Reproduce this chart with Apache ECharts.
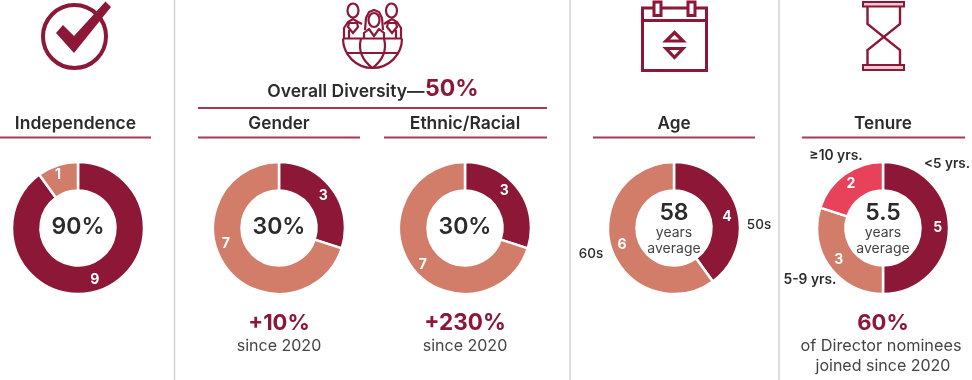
<!DOCTYPE html>
<html><head><meta charset="utf-8">
<style>html,body{margin:0;padding:0;background:#fff}#c{width:972px;height:380px}</style>
<script src="https://cdn.jsdelivr.net/npm/echarts@6/dist/echarts.min.js"></script>
</head><body><div id="c"></div>
<script>
const independenceValues = [9, 1];
const genderValues = [3, 7];
const ethnicValues = [3, 7];
const ageValues = [4, 6];
const tenureValues = [5, 3, 2];
const tenureCategories = ['<5 yrs.', '5-9 yrs.', '≥10 yrs.'];
const ageCategories = ['50s', '60s'];

const DARK = '#8c1736', SALMON = '#d27d6a', RED = '#e8415a', RULE = '#a63a56', INK = '#2b2b2b', SOFT = '#444444', DIV = '#d2d2d2';
const FONT = 'Inter, "Open Sans", sans-serif';

function donut(cx, values, colors, offsets) {
  return {
    type: 'pie', center: [cx, 228], radius: [37.5, 66], startAngle: 90, clockwise: true,
    silent: true, animation: false, avoidLabelOverlap: false, labelLine: { show: false },
    emphasis: { disabled: true },
    itemStyle: { borderColor: '#fff', borderWidth: 2.5 },
    data: values.map((v, i) => ({
      value: v,
      itemStyle: { color: colors[i] },
      label: {
        show: true, position: 'inside', formatter: String(v), color: '#fff',
        fontFamily: FONT, fontWeight: 700, fontSize: 14,
        offset: (offsets && offsets[i]) || [0, 0]
      }
    }))
  };
}
function txt(x, y, s, size, weight, fill, align) {
  return { type: 'text', silent: true, x, y, style: {
    text: s, fontFamily: FONT, fontSize: size, fontWeight: weight, fill,
    align: align || 'center', verticalAlign: 'middle' } };
}
function rule(x1, x2, y) {
  return { type: 'line', silent: true, shape: { x1, y1: y, x2, y2: y }, style: { stroke: RULE, lineWidth: 2 } };
}
function divider(x) {
  return { type: 'line', silent: true, shape: { x1: x, y1: 0, x2: x, y2: 380 }, style: { stroke: DIV, lineWidth: 1.5 } };
}
const ln = { stroke: DARK, fill: 'none', lineWidth: 2.6 };
const ln2 = { stroke: DARK, fill: 'none', lineWidth: 2.2 };
function pl(points, style) { return { type: 'polyline', silent: true, shape: { points }, style: style || ln }; }
function pg(points, style) { return { type: 'polygon', silent: true, shape: { points }, style: style || ln }; }
function rc(x, y, width, height, style) { return { type: 'rect', silent: true, shape: { x, y, width, height }, style: style || ln }; }
function bz(x1, y1, cpx1, cpy1, cpx2, cpy2, x2, y2, style) {
  return { type: 'bezierCurve', silent: true, shape: { x1, y1, x2, y2, cpx1, cpy1, cpx2, cpy2 }, style: style || ln2 };
}
function ell(cx, cy, rx, ry) { return { type: 'ellipse', silent: true, shape: { cx, cy, rx, ry }, style: ln2 }; }

const icons = [
  // check mark
  { type: 'circle', silent: true, shape: { cx: 74.5, cy: 36.5, r: 31.5 }, style: { stroke: DARK, fill: 'none', lineWidth: 4 } },
  pg([[56, 33], [63, 25], [74, 36], [105.5, 1.5], [111, 7], [74, 53]], { fill: DARK, stroke: 'none' }),
  // calendar
  rc(642.5, 8, 64, 62.5, { stroke: DARK, fill: 'none', lineWidth: 3 }),
  pl([[642.5, 20.5], [706.5, 20.5]], { stroke: DARK, fill: 'none', lineWidth: 3 }),
  rc(654, 2, 7, 13.5, { stroke: DARK, fill: '#fff', lineWidth: 3 }),
  rc(688, 2, 7, 13.5, { stroke: DARK, fill: '#fff', lineWidth: 3 }),
  pg([[674.5, 32.5], [683, 41], [666, 41]], { stroke: DARK, fill: 'none', lineWidth: 3.2 }),
  pg([[666, 48.5], [683, 48.5], [674.5, 57.5]], { stroke: DARK, fill: 'none', lineWidth: 3.2 }),
  // hourglass
  rc(863, 2, 41, 4.5, { stroke: DARK, fill: '#f4c9d2', lineWidth: 2 }),
  rc(863, 65, 41, 5, { stroke: DARK, fill: '#f4c9d2', lineWidth: 2 }),
  pl([[867.5, 7], [867.5, 24], [900, 50], [900, 65]], { stroke: DARK, fill: 'none', lineWidth: 2.4 }),
  pl([[900, 7], [900, 24], [867.5, 50], [867.5, 65]], { stroke: DARK, fill: 'none', lineWidth: 2.4 }),
  // globe
  { type: 'arc', silent: true, shape: { cx: 372.5, cy: 38.5, r: 29.5, startAngle: 0, endAngle: Math.PI, clockwise: true }, style: ln2 },
  pl([[343, 38.5], [402, 38.5]], ln2),
  pl([[347, 53], [398, 53]], ln2),
  bz(361, 38.5, 358, 50, 362, 60, 372.5, 68, ln2),
  bz(384, 38.5, 387, 50, 383, 60, 372.5, 68, ln2),
  // people
  ell(353, 10.5, 5.5, 7), ell(391.5, 10.5, 5.5, 7), ell(374, 20, 5.5, 7),
  pl([[344, 38], [344, 28], [348, 22], [353, 19], [358, 22], [362, 24]], ln2),
  pl([[349, 38], [349, 30]], ln2),
  pg([[349, 23], [357, 23], [358, 27], [353, 33], [348, 27]], ln2),
  pl([[401, 38], [401, 28], [397, 22], [392, 19], [387, 22], [384, 24]], ln2),
  pl([[396, 38], [396, 30]], ln2),
  pg([[388, 23], [396, 23], [397, 27], [392, 33], [387, 27]], ln2),
  pl([[365, 30], [366, 18], [369, 12], [374, 10], [379, 12], [382, 18], [383, 30]], ln2),
  pl([[364, 38], [364, 33], [369, 29], [374, 36], [379, 29], [384, 33], [384, 38]], ln2),
];

const texts = [
  txt(75.5, 124, 'Independence', 17.5, 600, INK),
  txt(424.5, 92, 'Overall Diversity—', 17.5, 600, INK, 'right'),
  txt(425, 89, '50%', 23, 700, DARK, 'left'),
  txt(279, 124, 'Gender', 17.2, 600, INK),
  txt(465, 124, 'Ethnic/Racial', 17.5, 600, INK),
  txt(674, 124, 'Age', 17.2, 600, INK),
  txt(883, 124, 'Tenure', 17.2, 600, INK),
  txt(78, 227, '90%', 23, 600, INK),
  txt(279, 227, '30%', 23, 600, INK),
  txt(465, 227, '30%', 23, 600, INK),
  txt(674, 213, '58', 23, 600, INK),
  txt(674, 233, 'years', 14, 400, SOFT),
  txt(674, 249, 'average', 14, 400, SOFT),
  txt(883, 213, '5.5', 23, 600, INK),
  txt(883, 233, 'years', 14, 400, SOFT),
  txt(883, 249, 'average', 14, 400, SOFT),
  txt(279, 323, '+10%', 22, 700, DARK),
  txt(279, 346, 'since 2020', 16, 400, SOFT),
  txt(465, 323, '+230%', 22.5, 700, DARK),
  txt(465, 346, 'since 2020', 16, 400, SOFT),
  txt(883, 323, '60%', 22, 700, DARK),
  txt(881, 346, 'of Director nominees', 16.3, 400, SOFT),
  txt(883, 366, 'joined since 2020', 16, 400, SOFT),
  txt(759, 225, ageCategories[0], 13.5, 500, INK),
  txt(591, 254, ageCategories[1], 13.5, 500, INK),
  txt(947, 164, tenureCategories[0], 13.5, 600, INK),
  txt(810, 280, tenureCategories[1], 13.8, 600, INK),
  txt(836, 156, tenureCategories[2], 13.8, 600, INK),
];

const chart = echarts.init(document.getElementById('c'), null, { width: 972, height: 380 });
chart.setOption({
  backgroundColor: '#fff',
  animation: false,
  series: [
    donut(78, independenceValues, [DARK, SALMON], [[0, 0], [-3, -1]]),
    donut(279, genderValues, [DARK, SALMON], [[0, 0], [-9, -16]]),
    donut(465, ethnicValues, [DARK, SALMON], [[-5, -5], [2, 5]]),
    donut(674, ageValues, [DARK, SALMON], [[1, 6], [0, 0]]),
    donut(883, tenureValues, [DARK, SALMON, RED])
  ],
  graphic: { elements: [
    divider(174.5), divider(570), divider(779),
    rule(198, 547, 108), rule(0, 151, 137.5), rule(198, 360, 137.5), rule(384, 547, 137.5),
    rule(593, 755, 137.5), rule(802, 965, 137.5),
    ...icons, ...texts
  ] }
});
</script></body></html>
